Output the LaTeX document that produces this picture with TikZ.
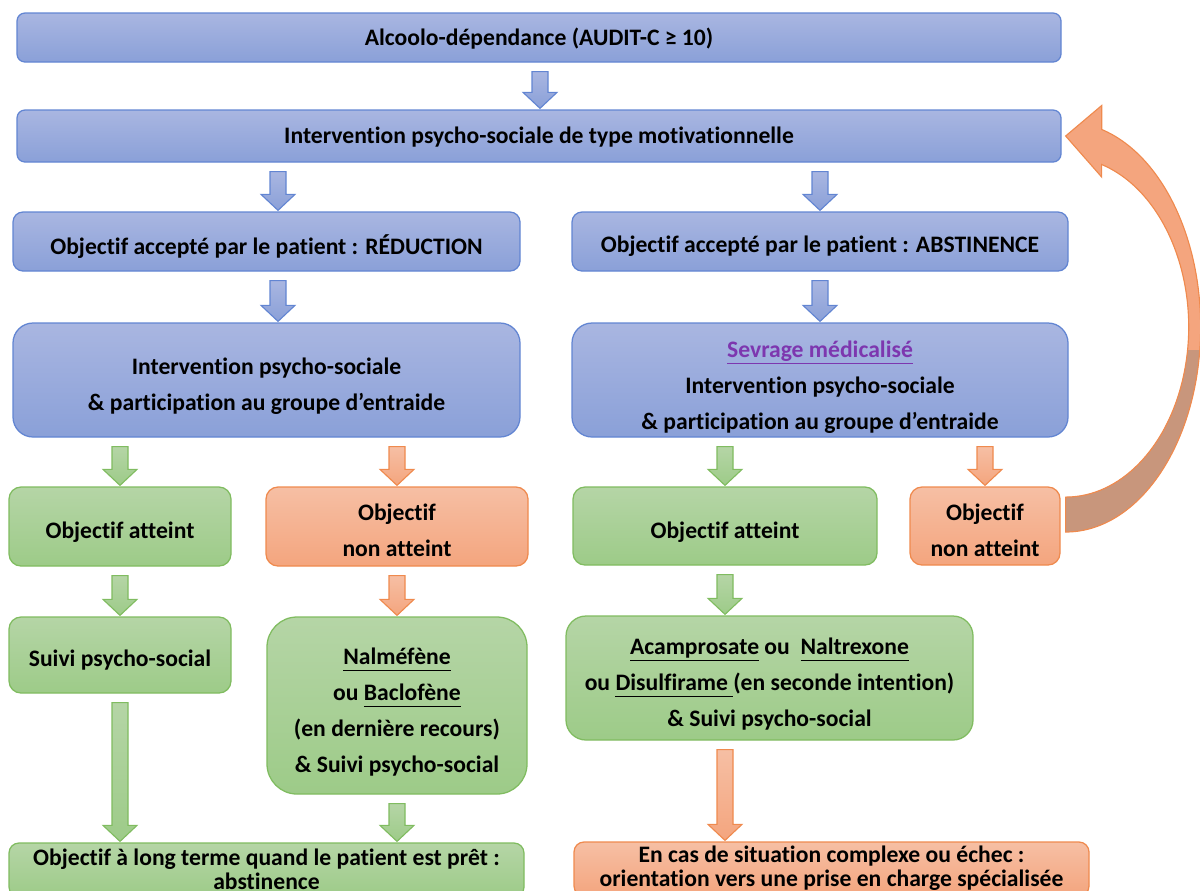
\documentclass[tikz,border=0pt]{standalone}
\usepackage{fontspec}
\setmainfont{Carlito}[Ligatures=NoCommon]
\usetikzlibrary{calc}

\definecolor{BlueTop}{RGB}{169,182,225}
\definecolor{BlueBot}{RGB}{138,160,216}
\definecolor{BlueLine}{RGB}{98,133,210}
\definecolor{GreenTop}{RGB}{181,213,166}
\definecolor{GreenBot}{RGB}{157,203,136}
\definecolor{GreenLine}{RGB}{128,188,96}
\definecolor{OrangeTop}{RGB}{246,191,164}
\definecolor{OrangeBot}{RGB}{244,165,126}
\definecolor{OrangeLine}{RGB}{239,138,78}
\definecolor{LoopDark}{RGB}{200,150,124}
\definecolor{Purple}{RGB}{125,55,175}

\newcommand{\undl}[1]{\underline{#1\vphantom{p}}}
\newcommand{\flowarrow}[4]{% Parameters: style, from, to, column
  \draw[#1] ($(#2.south -| #4)+(-8,9)$) -- ++(16,0)
    -- ($(#3.north -| #4)+(8,-17)$) -- ++(9,0) -- ($(#3.north -| #4)+(0,-1)$)
    -- ++(-17,-16) -- ++(9,0) -- cycle;
}
\newcommand{\looppath}[2]{% Parameters: from, to
  ($(#1.east)+(5,6)$) arc[start angle=90, end angle=-74.5, x radius=135, y radius=205]
  -- ++(0,-24) -- ($(#2.east)+(4,0)$) -- ++(36,41) -- ++(0,-12.5)
  arc[start angle=-73, end angle=90, x radius=123, y radius=170] -- cycle
}

\tikzset{
  box/.style={rounded corners=#1, inner sep=0pt, line width=0.9pt},
  bluebox/.style={box=#1, draw=BlueLine, top color=BlueTop, bottom color=BlueBot},
  greenbox/.style={box=#1, draw=GreenLine, top color=GreenTop, bottom color=GreenBot},
  orangebox/.style={box=#1, draw=OrangeLine, top color=OrangeTop, bottom color=OrangeBot},
  size/.style 2 args={minimum width=#1*0.025cm, minimum height=#2*0.025cm},
  txt/.style={align=center, inner sep=0pt, yshift=#1,
    font=\bfseries\fontsize{16.8pt}{25.6pt}\selectfont},
  txt/.default=0pt,
  tighttxt/.style={txt=#1, font=\bfseries\fontsize{16.8pt}{17pt}\selectfont},
  tighttxt/.default=0pt,
  bluearrow/.style={draw=BlueLine, line width=0.8pt, top color=BlueTop, bottom color=BlueBot},
  greenarrow/.style={draw=GreenLine, line width=0.8pt, top color=GreenTop, bottom color=GreenBot},
  orangearrow/.style={draw=OrangeLine, line width=0.8pt, top color=OrangeTop, bottom color=OrangeBot}
}

\begin{document}
\begin{tikzpicture}[x=0.025cm, y=-0.025cm]
  \useasboundingbox (0,0) rectangle (1200,890);
  % columns of the block arrows
  \coordinate (colA) at (540,0);
  \coordinate (colL) at (278,0);
  \coordinate (colR) at (820,0);
  \coordinate (col1) at (120,0);
  \coordinate (col2) at (397,0);
  \coordinate (col3) at (725,0);
  \coordinate (col4) at (985,0);

  \node[bluebox=0.2cm, size={1044}{49}, label={[txt=-0.6pt]center:{Alcoolo-dépendance (AUDIT-C ≥ 10)}}] (dep) at (539,37.5) {};
  \node[bluebox=0.2cm, size={1044}{52}, label={[txt=-0.6pt]center:{Intervention psycho-sociale de type motivationnelle}}] (motiv) at (539,136) {};
  \node[bluebox=0.25cm, size={507}{59}, label={[txt=-3.4pt]center:{Objectif accepté par le patient : RÉDUCTION}}] (reduc) at (266.5,241.5) {};
  \node[bluebox=0.25cm, size={496}{59}, label={[txt=-3.4pt]center:{Objectif accepté par le patient : ABSTINENCE}}] (abst) at (820,241.5) {};
  \node[bluebox=0.5cm, size={507}{114}, label={[txt=-4.4pt]center:{Intervention psycho-sociale\\\& participation au groupe d’entraide}}] (psyL) at (266.5,380) {};
  \node[bluebox=0.5cm, size={496}{114}, label={[txt=-4.8pt]center:{{\color{Purple}\underline{Sevrage médicalisé}}\\Intervention psycho-sociale\\\& participation au groupe d’entraide}}] (psyR) at (820,380) {};
  \node[greenbox=0.3cm, size={222}{79}, label={[txt=-4.2pt]center:{Objectif atteint}}] (okL) at (120,526.5) {};
  \node[orangebox=0.3cm, size={262}{79}, label={[txt=-3pt]center:{Objectif\\non atteint}}] (koL) at (397,526.5) {};
  \node[greenbox=0.3cm, size={304}{78}, label={[txt=-4.2pt]center:{Objectif atteint}}] (okR) at (725,526) {};
  \node[orangebox=0.3cm, size={150}{78}, label={[txt=-3pt]center:{Objectif\\non atteint}}] (koR) at (985,526) {};
  \node[greenbox=0.3cm, size={222}{76}, label={[txt=-3.6pt]center:{Suivi psycho-social}}] (suivi) at (120,655) {};
  \node[greenbox=0.75cm, size={260}{177}, label={[txt=-4.8pt]center:{\undl{Nalméfène}\\ou \undl{Baclofène}\\(en dernière recours)\\\& Suivi psycho-social}}] (nalm) at (397,705.5) {};
  \node[greenbox=0.5cm, size={407}{124}, label={[txt=-4.2pt]center:{\undl{Acamprosate} ou~ \undl{Naltrexone}\\ou \undl{Disulfirame\ }(en seconde intention)\\\& Suivi psycho-social}}] (acamp) at (769.5,678) {};
  \node[greenbox=0.25cm, size={515}{54}, label={[tighttxt=0.5pt]center:{Objectif à long terme quand le patient est prêt :\\abstinence}}] (longt) at (266.5,870) {};
  \node[orangebox=0.25cm, size={515}{54}, label={[tighttxt=0.5pt]center:{En cas de situation complexe ou échec :\\orientation vers une prise en charge spécialisée}}] (spec) at (831.5,869) {};

  \flowarrow{bluearrow}{dep}{motiv}{colA}
  \flowarrow{bluearrow}{motiv}{reduc}{colL}
  \flowarrow{bluearrow}{motiv}{abst}{colR}
  \flowarrow{bluearrow}{reduc}{psyL}{colL}
  \flowarrow{bluearrow}{abst}{psyR}{colR}
  \flowarrow{greenarrow}{psyL}{okL}{col1}
  \flowarrow{orangearrow}{psyL}{koL}{col2}
  \flowarrow{greenarrow}{psyR}{okR}{col3}
  \flowarrow{orangearrow}{psyR}{koR}{col4}
  \flowarrow{greenarrow}{okL}{suivi}{col1}
  \flowarrow{orangearrow}{koL}{nalm}{col2}
  \flowarrow{greenarrow}{okR}{acamp}{col3}
  \flowarrow{greenarrow}{suivi}{longt}{col1}
  \flowarrow{greenarrow}{nalm}{longt}{col2}
  \flowarrow{orangearrow}{acamp}{spec}{col3}

  % loop back from failed abstinence
  \fill[OrangeBot] \looppath{koR}{motiv};
  \begin{scope}
    \clip (1040,350) rectangle (1210,545);
    \fill[LoopDark] \looppath{koR}{motiv};
  \end{scope}
  \draw[OrangeLine, line width=0.8pt] \looppath{koR}{motiv};
\end{tikzpicture}
\end{document}
